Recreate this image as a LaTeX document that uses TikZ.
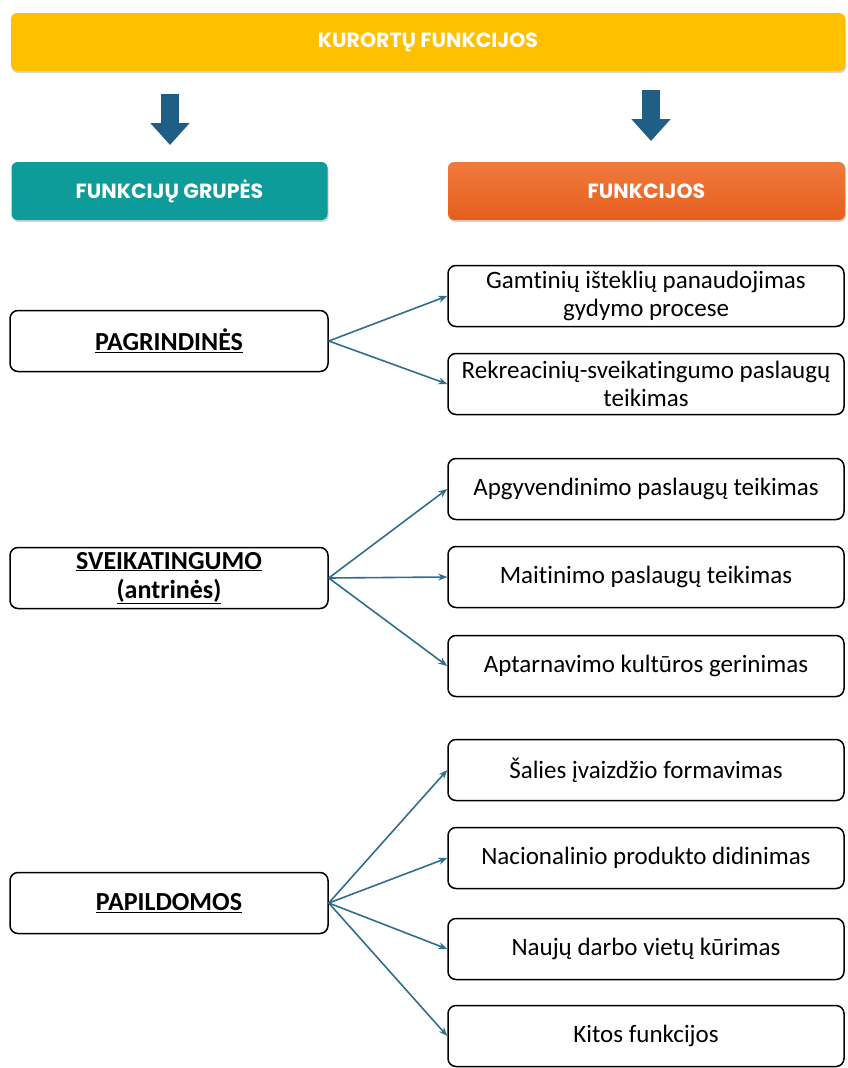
\documentclass[tikz,border=0pt]{standalone}
\usepackage{fontspec}
\setmainfont{Carlito}[Ligatures=NoCommon]
\newfontfamily\headfont{Poppins}
\usetikzlibrary{positioning, shadows, arrows.meta}

\definecolor{kyellow}{HTML}{FFC000}
\definecolor{kteal}{HTML}{0E9C9A}
\definecolor{korangeA}{HTML}{F07A3E}
\definecolor{korangeB}{HTML}{E65F1C}
\definecolor{kblue}{HTML}{1F5F85}
\definecolor{kline}{HTML}{2F6E8E}

\begin{document}
\begin{tikzpicture}[x=1pt, y=-1pt,
    head/.style={rectangle, rounded corners=6pt, text=white, font=\headfont\bfseries\fontsize{20.5}{23}\selectfont,
      minimum height=58pt, drop shadow={opacity=0.35, shadow xshift=1pt, shadow yshift=-2pt}},
    group/.style={rectangle, draw, line width=1.5pt, rounded corners=8pt, minimum width=318pt,
      minimum height=61pt, align=center, font=\bfseries\fontsize{26}{29}\selectfont},
    func/.style={rectangle, draw, line width=1.5pt, rounded corners=8pt, minimum width=396pt,
      minimum height=61pt, align=center, font=\fontsize{25}{28}\selectfont},
    down/.style={kblue, line width=18pt, -{Triangle[length=22pt, width=38pt]}},
    >={Stealth[length=9pt, width=7pt]}]

  \useasboundingbox (0,0) rectangle (847,1068);

  % headers
  \node[head, fill=kyellow, minimum width=834pt] (top) at (428,42) {KURORTŲ FUNKCIJOS};
  \coordinate (arrLa) at (170,94);
  \coordinate (arrLb) at (170,145);
  \coordinate (arrRa) at (651,90);
  \coordinate (arrRb) at (651,141);
  \draw[down] (arrLa) -- (arrLb);
  \draw[down] (arrRa) -- (arrRb);
  \node[head, fill=kteal, minimum width=316pt] (groups) at (169.5,191) {FUNKCIJŲ GRUPĖS};
  \node[head, top color=korangeA, bottom color=korangeB, minimum width=397pt] (funcs) at (646.5,191) {FUNKCIJOS};

  % groups
  \node[group] (pagr) at (169,341) {\underline{PAGRINDINĖS}};
  \node[group] (sveik) at (169,578) {\underline{SVEIKATINGUMO}\\\underline{(antrinės)}};
  \node[group] (papild) at (169,903) {\underline{PAPILDOMOS}};

  % functions
  \node[func] (f1) at (646,296) {Gamtinių išteklių panaudojimas\\gydymo procese};
  \node[func] (f2) at (646,384) {Rekreacinių-sveikatingumo paslaugų\\teikimas};
  \node[func] (f3) at (646,489) {Apgyvendinimo paslaugų teikimas};
  \node[func] (f4) at (646,577) {Maitinimo paslaugų teikimas};
  \node[func] (f5) at (646,666) {Aptarnavimo kultūros gerinimas};
  \node[func] (f6) at (646,770) {Šalies įvaizdžio formavimas};
  \node[func] (f7) at (646,858) {Nacionalinio produkto didinimas};
  \node[func] (f8) at (646,949) {Naujų darbo vietų kūrimas};
  \node[func] (f9) at (646,1036) {Kitos funkcijos};

  \draw[->, kline, line width=1.6pt] (pagr.east) -- (f1.west);
  \draw[->, kline, line width=1.6pt] (pagr.east) -- (f2.west);
  \draw[->, kline, line width=1.6pt] (sveik.east) -- (f3.west);
  \draw[->, kline, line width=1.6pt] (sveik.east) -- (f4.west);
  \draw[->, kline, line width=1.6pt] (sveik.east) -- (f5.west);
  \draw[->, kline, line width=1.6pt] (papild.east) -- (f6.west);
  \draw[->, kline, line width=1.6pt] (papild.east) -- (f7.west);
  \draw[->, kline, line width=1.6pt] (papild.east) -- (f8.west);
  \draw[->, kline, line width=1.6pt] (papild.east) -- (f9.west);
\end{tikzpicture}
\end{document}
